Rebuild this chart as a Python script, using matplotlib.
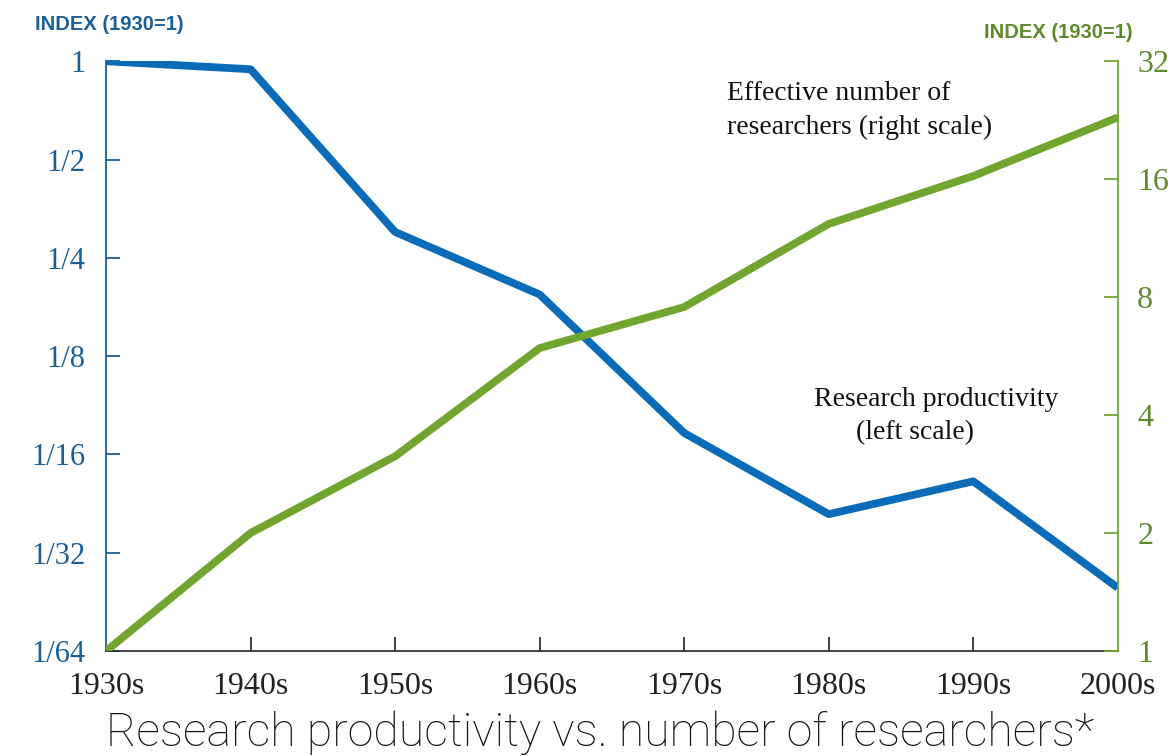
import matplotlib
matplotlib.use("Agg")
import matplotlib.pyplot as plt
from matplotlib.ticker import FixedLocator, NullLocator

decades = ["1930s", "1940s", "1950s", "1960s", "1970s", "1980s", "1990s", "2000s"]
productivity = [1.0, 0.945, 0.30, 0.193, 0.0727, 0.041, 0.0517, 0.0244]
researchers = [1.0, 2.0, 3.14, 5.93, 7.55, 12.3, 16.3, 23.0]
left_ticks = [1/64, 1/32, 1/16, 1/8, 1/4, 1/2, 1]
left_labels = ["1/64", "1/32", "1/16", "1/8", "1/4", "1/2", "1"]
right_ticks = [1, 2, 4, 8, 16, 32]
right_labels = ["1", "2", "4", "8", "16", "32"]

BLUE = "#0a6cb8"
BLUE_T = "#1c5e96"
GREEN = "#72a52f"
GREEN_T = "#5f8a2c"
SERIF = "Liberation Serif"

fig = plt.figure(figsize=(11.68, 7.56), dpi=100)
ax = fig.add_axes([0.0908, 0.1389, 0.957 - 0.0908, 0.919 - 0.1389])
ax2 = ax.twinx()

x = list(range(len(decades)))
ax.plot(x, productivity, color=BLUE, lw=5.6, solid_capstyle="butt", zorder=3)
ax2.plot(x, researchers, color=GREEN, lw=5.6, solid_capstyle="butt", zorder=3)

ax.set_yscale("log", base=2)
ax2.set_yscale("log", base=2)
ax.set_ylim(1/64, 1)
ax2.set_ylim(1, 32)
ax.set_xlim(0, 7)

ax.yaxis.set_major_locator(FixedLocator(left_ticks))
ax.set_yticklabels(left_labels)
ax.yaxis.set_minor_locator(NullLocator())
ax2.yaxis.set_major_locator(FixedLocator(right_ticks))
ax2.set_yticklabels(right_labels)
ax2.yaxis.set_minor_locator(NullLocator())

ax.set_xticks(x)
ax.set_xticklabels(decades)

for a in (ax, ax2):
    a.spines["top"].set_visible(False)
    a.set_facecolor("none")
ax2.spines["left"].set_visible(False)
ax2.spines["bottom"].set_visible(False)
ax.spines["right"].set_visible(False)
ax.spines["left"].set_color(BLUE_T)
ax.spines["left"].set_linewidth(1.3)
ax.spines["bottom"].set_color("#333333")
ax.spines["bottom"].set_linewidth(1.3)
ax2.spines["right"].set_color(GREEN)
ax2.spines["right"].set_linewidth(1.3)

ax.tick_params(axis="y", direction="in", length=10, width=1.3, color=BLUE_T,
               labelcolor=BLUE_T, labelsize=22, pad=15)
ax.tick_params(axis="x", direction="in", length=10, width=1.3, color="#333333",
               labelcolor="#222222", labelsize=23, pad=15)
ax2.tick_params(axis="y", direction="in", length=10, width=1.3, color=GREEN,
                labelcolor=GREEN_T, labelsize=23, pad=14)
for lab in ax.get_xticklabels() + ax.get_yticklabels() + ax2.get_yticklabels():
    lab.set_fontfamily(SERIF)

# no tick marks at the two ends of the x axis
xt = ax.xaxis.get_major_ticks()
for t in (xt[0], xt[-1]):
    t.tick1line.set_visible(False)
    t.tick2line.set_visible(False)

fig.text(35/1168, 1 - 24/756, "INDEX (1930=1)", color=BLUE_T, fontsize=14.5,
         fontweight="bold", family="Liberation Sans", ha="left", va="center")
fig.text(1133/1168, 1 - 33/756, "INDEX (1930=1)", color=GREEN_T, fontsize=14.5,
         fontweight="bold", family="Liberation Sans", ha="right", va="center")

fs_ann = 20
fig.text(727/1168, 1 - 93/756, "Effective number of", fontsize=fs_ann,
         family=SERIF, color="#111111", ha="left", va="center")
fig.text(727/1168, 1 - 127/756, "researchers (right scale)", fontsize=fs_ann,
         family=SERIF, color="#111111", ha="left", va="center")
fig.text(814/1168, 1 - 400/756, "Research productivity", fontsize=fs_ann,
         family=SERIF, color="#111111", ha="left", va="center")
fig.text(856/1168, 1 - 433/756, "(left scale)", fontsize=fs_ann,
         family=SERIF, color="#111111", ha="left", va="center")

fig.text(600/1168, 1 - 733/756, "Research productivity vs. number of researchers*",
         fontsize=33.5, family="Roboto", fontweight="light", color="#111111",
         ha="center", va="center")

fig.savefig("out.png", dpi=100)
